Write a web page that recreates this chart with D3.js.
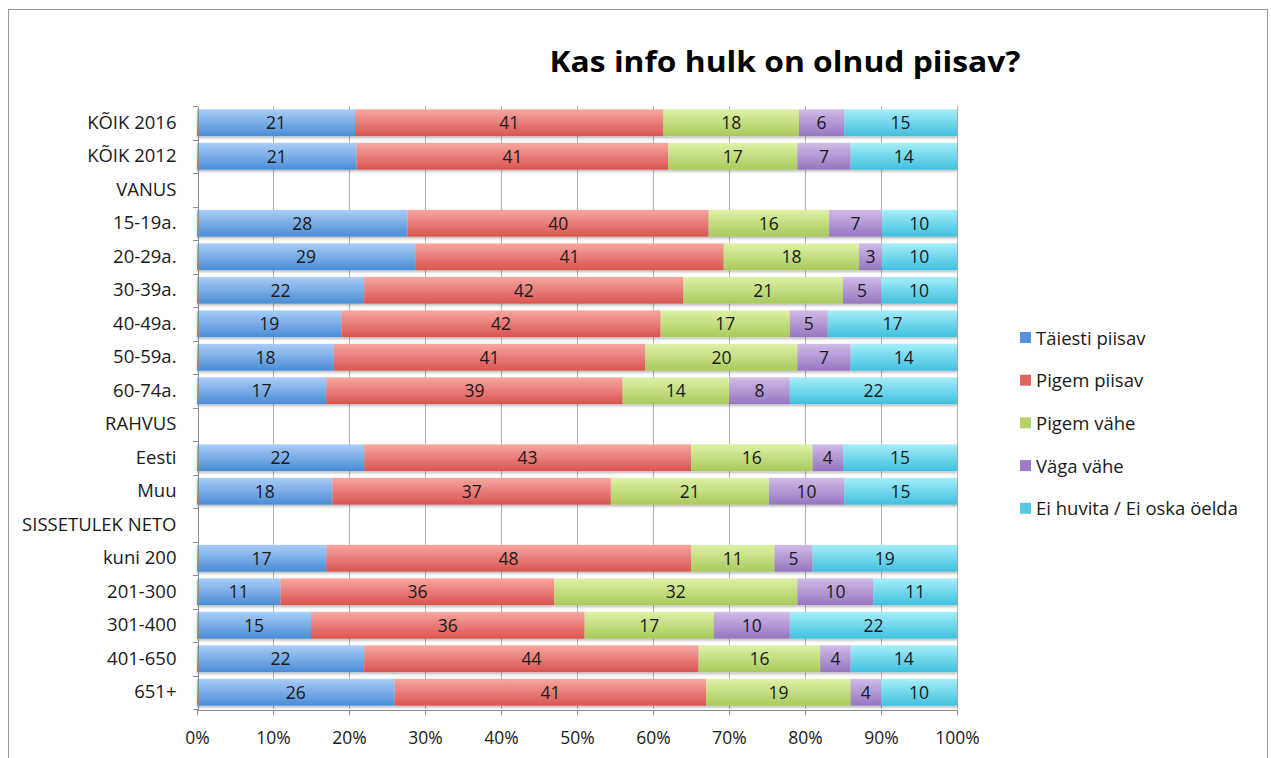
<!DOCTYPE html>
<meta charset="utf-8">
<style>
body { margin: 0; background: #fff; }
text { font-family: "Open Sans", Lato, sans-serif; fill: #1a1a1a; }
.grid line { stroke: #b3b3b3; stroke-width: 1; }
.axis path, .axis line { stroke: #8c8c8c; fill: none; shape-rendering: crispEdges; }
</style>
<div id="chart"></div>
<script src="https://d3js.org/d3.v7.min.js"></script>
<script>

// categories, top to bottom (empty rows are group headers)
var categories = ["KÕIK 2016", "KÕIK 2012", "VANUS", "15-19a.", "20-29a.", "30-39a.", "40-49a.", "50-59a.", "60-74a.",
  "RAHVUS", "Eesti", "Muu", "SISSETULEK NETO", "kuni 200", "201-300", "301-400", "401-650", "651+"];

var seriesNames = ["Täiesti piisav", "Pigem piisav", "Pigem vähe", "Väga vähe", "Ei huvita / Ei oska öelda"];

// one array per series, in category order (null = no bar)
var taiestiPiisav = [21, 21, null, 28, 29, 22, 19, 18, 17, null, 22, 18, null, 17, 11, 15, 22, 26];
var pigemPiisav   = [41, 41, null, 40, 41, 42, 42, 41, 39, null, 43, 37, null, 48, 36, 36, 44, 41];
var pigemVahe     = [18, 17, null, 16, 18, 21, 17, 20, 14, null, 16, 21, null, 11, 32, 17, 16, 19];
var vagaVahe      = [6, 7, null, 7, 3, 5, 5, 7, 8, null, 4, 10, null, 5, 10, 10, 4, 4];
var eiHuvita      = [15, 14, null, 10, 10, 10, 17, 14, 22, null, 15, 15, null, 19, 11, 22, 14, 10];

var xTicks = [0, 0.1, 0.2, 0.3, 0.4, 0.5, 0.6, 0.7, 0.8, 0.9, 1];

var seriesValues = [taiestiPiisav, pigemPiisav, pigemVahe, vagaVahe, eiHuvita];
var gradTop = ["#a9cdf7", "#f7a6a2", "#def1a6", "#d0bbe8", "#a6eefa"];
var gradBottom = ["#4a8cd6", "#d9544f", "#a9c95c", "#9576bf", "#3fc0de"];
var swatch = ["#5592dc", "#e06560", "#b4d36c", "#9c7cc4", "#55c8e2"];

var W = 1271, H = 758;
var svg = d3.select("#chart").append("svg").attr("width", W).attr("height", H);

// outer frame
svg.append("rect").attr("x", 8.5).attr("y", 9.5).attr("width", 1259).attr("height", 760)
  .attr("fill", "none").attr("stroke", "#9a9a9a");

var defs = svg.append("defs");
seriesNames.forEach(function(s, i) {
  var g = defs.append("linearGradient").attr("id", "g" + i)
    .attr("x1", 0).attr("y1", 0).attr("x2", 0).attr("y2", 1);
  g.append("stop").attr("offset", "0%").attr("stop-color", gradTop[i]);
  g.append("stop").attr("offset", "100%").attr("stop-color", gradBottom[i]);
});
var f = defs.append("filter").attr("id", "shadow").attr("x", "-5%").attr("y", "-20%").attr("width", "110%").attr("height", "160%");
f.append("feDropShadow").attr("dx", 0).attr("dy", 2).attr("stdDeviation", 1.2).attr("flood-color", "#000").attr("flood-opacity", 0.25);

svg.append("text").attr("x", 785).attr("y", 72).attr("text-anchor", "middle")
  .style("font-size", "28px").style("font-weight", "bold").style("fill", "#000")
  .attr("textLength", 471).attr("lengthAdjust", "spacingAndGlyphs")
  .text("Kas info hulk on olnud piisav?");

var x = d3.scaleLinear().domain([0, 1]).range([197, 957]);
var y = d3.scaleBand().domain(categories).range([106, 709]).paddingInner(0.2).paddingOuter(0.1);

// gridlines
svg.append("g").attr("class", "grid").selectAll("line").data(xTicks.slice(1)).enter().append("line")
  .attr("x1", function(d) { return Math.round(x(d)) + 0.5; })
  .attr("x2", function(d) { return Math.round(x(d)) + 0.5; })
  .attr("y1", 106).attr("y2", 709);

// stacked rows, normalised to 100%
var rows = categories.map(function(c, ci) {
  var vals = seriesValues.map(function(s) { return s[ci]; });
  if (vals[0] == null) return {cat: c, segs: []};
  var sum = d3.sum(vals), acc = 0;
  var segs = vals.map(function(v, si) {
    var seg = {s: si, v: v, x0: acc / sum, x1: (acc + v) / sum};
    acc += v;
    return seg;
  });
  return {cat: c, segs: segs};
});

var rowG = svg.append("g").selectAll("g").data(rows).enter().append("g")
  .attr("transform", function(d) { return "translate(0," + y(d.cat) + ")"; });

rowG.append("g").attr("filter", "url(#shadow)").selectAll("rect").data(function(d) { return d.segs; }).enter()
  .append("rect")
  .attr("x", function(d) { return x(d.x0); })
  .attr("width", function(d) { return x(d.x1) - x(d.x0); })
  .attr("height", y.bandwidth())
  .attr("fill", function(d) { return "url(#g" + d.s + ")"; });

rowG.selectAll("text.v").data(function(d) { return d.segs; }).enter()
  .append("text").attr("class", "v")
  .attr("x", function(d) { return (x(d.x0) + x(d.x1)) / 2; })
  .attr("y", y.bandwidth() / 2)
  .attr("dy", "0.36em").attr("text-anchor", "middle")
  .style("font-size", "17.5px")
  .text(function(d) { return d.v; });

// axes
var yAxis = d3.axisLeft(d3.scaleBand().domain(categories).range([106, 709])).tickSize(0).tickPadding(21);
var yg = svg.append("g").attr("class", "axis").attr("transform", "translate(197.5,0)").call(yAxis);
yg.selectAll("text").style("font-size", "18.5px").style("font-family", "'Open Sans', sans-serif").style("fill", "#1a1a1a");
// category boundary ticks
yg.selectAll("line.b").data(d3.range(categories.length + 1)).enter().append("line").attr("class", "b")
  .attr("x1", -5).attr("x2", 0)
  .attr("y1", function(i) { return Math.round(106 + i * (603 / categories.length)) + 0.5; })
  .attr("y2", function(i) { return Math.round(106 + i * (603 / categories.length)) + 0.5; });

var xAxis = d3.axisBottom(x).tickValues(xTicks).tickFormat(d3.format(".0%")).tickSize(5).tickSizeOuter(0).tickPadding(17);
var xg = svg.append("g").attr("class", "axis").attr("transform", "translate(0,709.5)").call(xAxis);
xg.selectAll("text").style("font-size", "17.5px").style("font-family", "'Open Sans', sans-serif").style("fill", "#1a1a1a");

// legend
var leg = svg.append("g").selectAll("g").data(seriesNames).enter().append("g")
  .attr("transform", function(d, i) { return "translate(1020," + (338 + i * 42.7) + ")"; });
leg.append("rect").attr("x", 0).attr("y", -6).attr("width", 11).attr("height", 11)
  .attr("fill", function(d, i) { return swatch[i]; });
leg.append("text").attr("x", 16).attr("dy", "0.36em").style("font-size", "18.5px").text(function(d) { return d; });

</script>
